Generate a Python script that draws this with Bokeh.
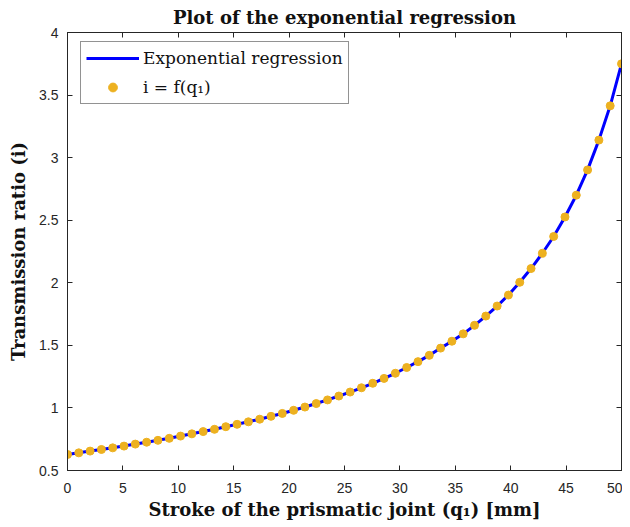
from bokeh.plotting import figure
from bokeh.models import (LinearAxis, FixedTicker, Range1d, Legend, LegendItem,
                          ColumnDataSource)
from bokeh.embed import file_html
from bokeh.resources import INLINE

# ---- data ----
n_points = 50
stroke = [i * 50 / 49 for i in range(n_points)]  # q1 [mm], 50 samples 0..50
ratio = [0.628, 0.641, 0.655, 0.668, 0.681, 0.695, 0.711, 0.726, 0.741, 0.757,
         0.775, 0.793, 0.811, 0.829, 0.850, 0.869, 0.889, 0.910, 0.933, 0.956,
         0.981, 1.007, 1.035, 1.064, 1.095, 1.127, 1.161, 1.197, 1.236, 1.277,
         1.323, 1.370, 1.420, 1.478, 1.533, 1.592, 1.660, 1.734, 1.814, 1.902,
         2.004, 2.114, 2.236, 2.370, 2.526, 2.700, 2.902, 3.140, 3.414, 3.750]
x_ticks = [0, 5, 10, 15, 20, 25, 30, 35, 40, 45, 50]
x_tick_labels = ["0", "5", "10", "15", "20", "25", "30", "35", "40", "45", "50"]
y_ticks = [0.5, 1, 1.5, 2, 2.5, 3, 3.5, 4]
y_tick_labels = ["0.5", "1", "1.5", "2", "2.5", "3", "3.5", "4"]

title_text = "Plot of the exponential regression"
x_label = "Stroke of the prismatic joint (q\u2081) [mm]"
y_label = "Transmission ratio (i)"
legend_line = "Exponential regression"
legend_pts = "i = f(q\u2081)"

BLUE = "#0000FF"
ORANGE = "#EDB120"
AX = "#262626"
SERIF = "DejaVu Serif"
SANS = "Liberation Sans"

src = ColumnDataSource(dict(x=stroke, y=ratio))

p = figure(width=622, height=522, output_backend="svg", toolbar_location=None,
           x_range=Range1d(0, 50), y_range=Range1d(0.5, 4),
           min_border_left=67, min_border_right=1, min_border_top=0,
           min_border_bottom=0)

p.title.text = title_text
p.title.align = "center"
p.title.text_font = SERIF
p.title.text_font_size = "18px"
p.title.text_font_style = "bold"
p.title.text_color = "#111111"
p.title.standoff = 9

p.xgrid.visible = False
p.ygrid.visible = False
p.outline_line_color = AX
p.outline_line_width = 1

line_r = p.line("x", "y", source=src, line_color=BLUE, line_width=3)
pts_r = p.scatter("x", "y", source=src, size=8, fill_color=ORANGE,
                  line_color=ORANGE)

def style_axis(ax, labels, ticks, show_labels):
    ax.ticker = FixedTicker(ticks=ticks)
    ax.major_tick_in = 5
    ax.major_tick_out = 0
    ax.minor_tick_line_color = None
    ax.axis_line_color = AX
    ax.major_tick_line_color = AX
    ax.major_label_text_font = SANS
    ax.major_label_text_font_size = "14px"
    ax.major_label_text_color = AX
    if show_labels:
        ax.major_label_overrides = {t: l for t, l in zip(ticks, labels)}
    else:
        ax.major_label_overrides = {t: "" for t in ticks}
        ax.major_label_standoff = 0

xa = p.xaxis[0]
style_axis(xa, x_tick_labels, x_ticks, True)
xa.axis_label = x_label
xa.axis_label_text_font = SERIF
xa.axis_label_text_font_size = "18px"
xa.axis_label_text_font_style = "bold"
xa.axis_label_text_color = "#111111"
xa.axis_label_standoff = 3
xa.major_label_standoff = 12

ya = p.yaxis[0]
style_axis(ya, y_tick_labels, y_ticks, True)
ya.axis_label = y_label
ya.axis_label_text_font = SERIF
ya.axis_label_text_font_size = "18px"
ya.axis_label_text_font_style = "bold"
ya.axis_label_text_color = "#111111"
ya.axis_label_standoff = 7
ya.major_label_standoff = 9

top = LinearAxis()
style_axis(top, x_tick_labels, x_ticks, False)
p.add_layout(top, "above")
right = LinearAxis()
style_axis(right, y_tick_labels, y_ticks, False)
p.add_layout(right, "right")

legend = Legend(items=[LegendItem(label=legend_line, renderers=[line_r]),
                       LegendItem(label=legend_pts, renderers=[pts_r])],
                location=(13, 366))
legend.label_text_font = SERIF
legend.label_text_font_size = "17px"
legend.label_text_color = "#111111"
legend.border_line_color = AX
legend.border_line_width = 1
legend.glyph_width = 53
legend.glyph_height = 22
legend.label_height = 22
legend.spacing = 7
legend.padding = 5
legend.margin = 0
legend.label_standoff = 4
p.add_layout(legend, "center")

open("out.html", "w").write(file_html(p, INLINE))
